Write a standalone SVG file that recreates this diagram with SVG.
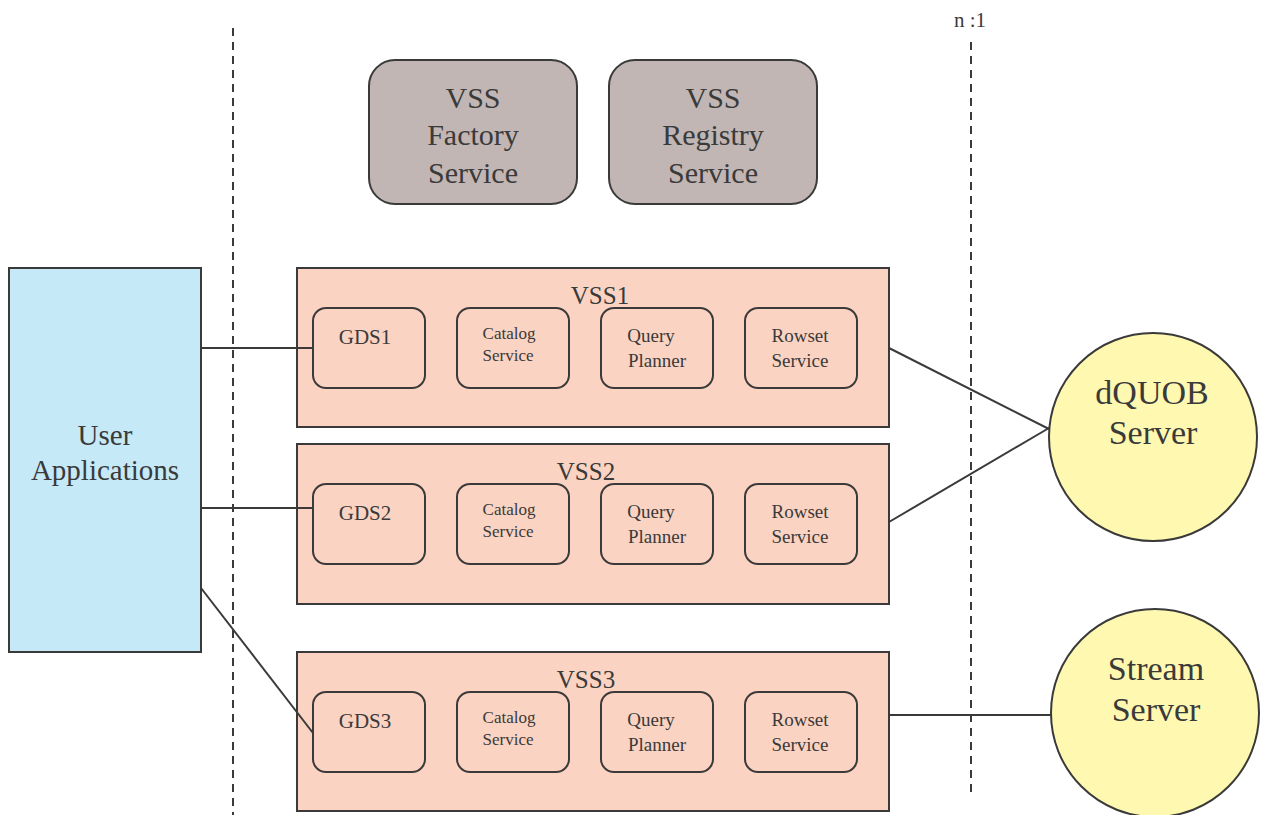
<svg xmlns="http://www.w3.org/2000/svg" width="1262" height="815" viewBox="0 0 1262 815">
<style>
text{font-family:"Liberation Serif","Times New Roman",serif;fill:#3a3a3a;text-anchor:middle;dominant-baseline:central}
.ln{stroke:#3a3a3a;stroke-width:2;fill:none}
.dash{stroke:#3a3a3a;stroke-width:2;stroke-dasharray:8,6;fill:none}
.gray{fill:#c1b6b3;stroke:#3a3a3a;stroke-width:2}
.vss{fill:#fbd3c2;stroke:#3a3a3a;stroke-width:2}
.sub{fill:#fbd3c2;stroke:#3a3a3a;stroke-width:2}
.circ{fill:#fff8b0;stroke:#3a3a3a;stroke-width:2}
.t30{font-size:30px}.t26{font-size:29px}.t25{font-size:25px}.t21{font-size:21px}.t19{font-size:19px}.t17{font-size:17px}.t33{font-size:34px}
</style>
<rect width="1262" height="815" fill="#fff"/>
<g id="dividers">
<line class="dash" x1="233" y1="28" x2="233" y2="815"/>
<line class="dash" x1="971" y1="42" x2="971" y2="795"/>
<text x="970" y="20" class="t21">n :1</text>
</g>
<g id="factory">
<rect class="gray" x="369" y="60" width="208" height="144" rx="26"/>
<text x="473" y="97" class="t30">VSS</text>
<text x="473" y="134" class="t30">Factory</text>
<text x="473" y="172" class="t30">Service</text>
</g>
<g id="registry">
<rect class="gray" x="609" y="60" width="208" height="144" rx="26"/>
<text x="713" y="97" class="t30">VSS</text>
<text x="713" y="134" class="t30">Registry</text>
<text x="713" y="172" class="t30">Service</text>
</g>
<g id="userapps">
<rect x="9" y="268" width="192" height="384" fill="#c6e9f8" stroke="#3a3a3a" stroke-width="2"/>
<text x="105" y="435" class="t26">User</text>
<text x="105" y="470" class="t26">Applications</text>
</g>
<g id="vss1">
<rect class="vss" x="297" y="268" width="592" height="159"/>
<text x="600" y="295" class="t25">VSS1</text>
<g id="gds1"><rect class="sub" x="313" y="308" width="112" height="80" rx="13"/><text x="365" y="337" class="t21">GDS1</text></g>
<g id="catalog1"><rect class="sub" x="457" y="308" width="112" height="80" rx="13"/><text x="509" y="333" class="t17">Catalog</text><text x="508" y="355" class="t17">Service</text></g>
<g id="query1"><rect class="sub" x="601" y="308" width="112" height="80" rx="13"/><text x="651" y="335" class="t19">Query</text><text x="657" y="360" class="t19">Planner</text></g>
<g id="rowset1"><rect class="sub" x="745" y="308" width="112" height="80" rx="13"/><text x="800" y="335" class="t19">Rowset</text><text x="800" y="360" class="t19">Service</text></g>
</g>
<g id="vss2">
<rect class="vss" x="297" y="444" width="592" height="160"/>
<text x="586" y="471" class="t25">VSS2</text>
<g id="gds2"><rect class="sub" x="313" y="484" width="112" height="80" rx="13"/><text x="365" y="513" class="t21">GDS2</text></g>
<g id="catalog2"><rect class="sub" x="457" y="484" width="112" height="80" rx="13"/><text x="509" y="509" class="t17">Catalog</text><text x="508" y="531" class="t17">Service</text></g>
<g id="query2"><rect class="sub" x="601" y="484" width="112" height="80" rx="13"/><text x="651" y="511" class="t19">Query</text><text x="657" y="536" class="t19">Planner</text></g>
<g id="rowset2"><rect class="sub" x="745" y="484" width="112" height="80" rx="13"/><text x="800" y="511" class="t19">Rowset</text><text x="800" y="536" class="t19">Service</text></g>
</g>
<g id="vss3">
<rect class="vss" x="297" y="652" width="592" height="159"/>
<text x="586" y="679" class="t25">VSS3</text>
<g id="gds3"><rect class="sub" x="313" y="692" width="112" height="80" rx="13"/><text x="365" y="721" class="t21">GDS3</text></g>
<g id="catalog3"><rect class="sub" x="457" y="692" width="112" height="80" rx="13"/><text x="509" y="717" class="t17">Catalog</text><text x="508" y="739" class="t17">Service</text></g>
<g id="query3"><rect class="sub" x="601" y="692" width="112" height="80" rx="13"/><text x="651" y="719" class="t19">Query</text><text x="657" y="744" class="t19">Planner</text></g>
<g id="rowset3"><rect class="sub" x="745" y="692" width="112" height="80" rx="13"/><text x="800" y="719" class="t19">Rowset</text><text x="800" y="744" class="t19">Service</text></g>
</g>
<g id="dquob">
<circle class="circ" cx="1153" cy="437" r="104"/>
<text x="1152" y="392" class="t33">dQUOB</text>
<text x="1153" y="432" class="t33">Server</text>
</g>
<g id="stream">
<circle class="circ" cx="1155" cy="713" r="104"/>
<text x="1156" y="668" class="t33">Stream</text>
<text x="1156" y="709" class="t33">Server</text>
</g>
<g id="connectors">
<line class="ln" x1="201" y1="348" x2="313" y2="348"/>
<line class="ln" x1="201" y1="508" x2="313" y2="508"/>
<line class="ln" x1="201" y1="588" x2="313" y2="733"/>
<line class="ln" x1="889" y1="348" x2="1049" y2="429"/>
<line class="ln" x1="889" y1="522" x2="1049" y2="428"/>
<line class="ln" x1="889" y1="715" x2="1051" y2="715"/>
</g>
</svg>
